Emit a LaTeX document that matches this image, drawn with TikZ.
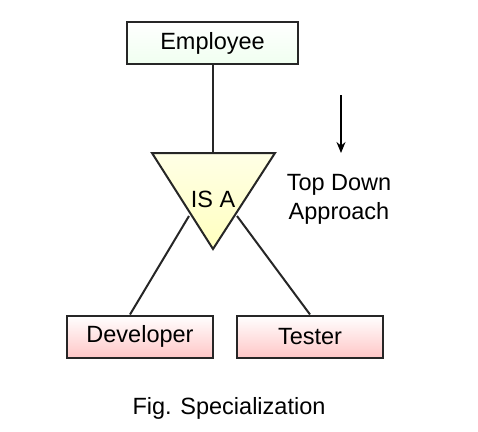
\documentclass[tikz,border=0pt]{standalone}
\usepackage{fontspec}
\setmainfont{Liberation Sans}
\usetikzlibrary{arrows.meta}
\begin{document}
\begin{tikzpicture}[x=1pt,y=-1pt,
  ent/.style={draw=black!85, line width=2pt, minimum height=42pt, inner sep=0pt, font=\fontsize{23.5}{27}\selectfont},
  conn/.style={draw=black!85, line width=2pt},
  lbl/.style={font=\fontsize{23.5}{29}\selectfont, align=center, inner sep=0pt}]
\useasboundingbox (0,0) rectangle (478,431);
\node[ent, minimum width=171pt, top color=white, bottom color=green!6] (emp) at (212.5,43) {Employee};
\node[ent, minimum width=146pt, top color=white, bottom color=red!22] (dev) at (140,336.5) {Developer};
\node[ent, minimum width=146pt, top color=white, bottom color=red!22] (tes) at (310,336.5) {Tester};
\coordinate (tl) at (152,153);
\coordinate (tr) at (275,153);
\coordinate (ap) at (213,249);
\coordinate (tt) at (212.5,153);
\coordinate (le) at (189,216);
\coordinate (re) at (237,216);
\shade[top color=yellow!10, bottom color=yellow!25] (tl) -- (tr) -- (ap) -- cycle;
\draw[conn, line join=miter] (tl) -- (tr) -- (ap) -- cycle;
\node[lbl] (isa) at (213,199) {IS A};
\draw[conn] (emp.south) -- (tt);
\draw[conn] (le) -- (dev.north -| 130,0);
\draw[conn] (re) -- (tes.north -| 310,0);
\coordinate (as) at (341,95);
\coordinate (ae) at (341,153);
\draw[line width=1.6pt, -{Stealth[length=11pt,width=9pt]}] (as) -- (ae);
\node[lbl] (tda) at (339,199.5) {Top Down\\Approach};
\node[lbl] (cap) at (229,408) {Fig. Specialization};
\end{tikzpicture}
\end{document}
